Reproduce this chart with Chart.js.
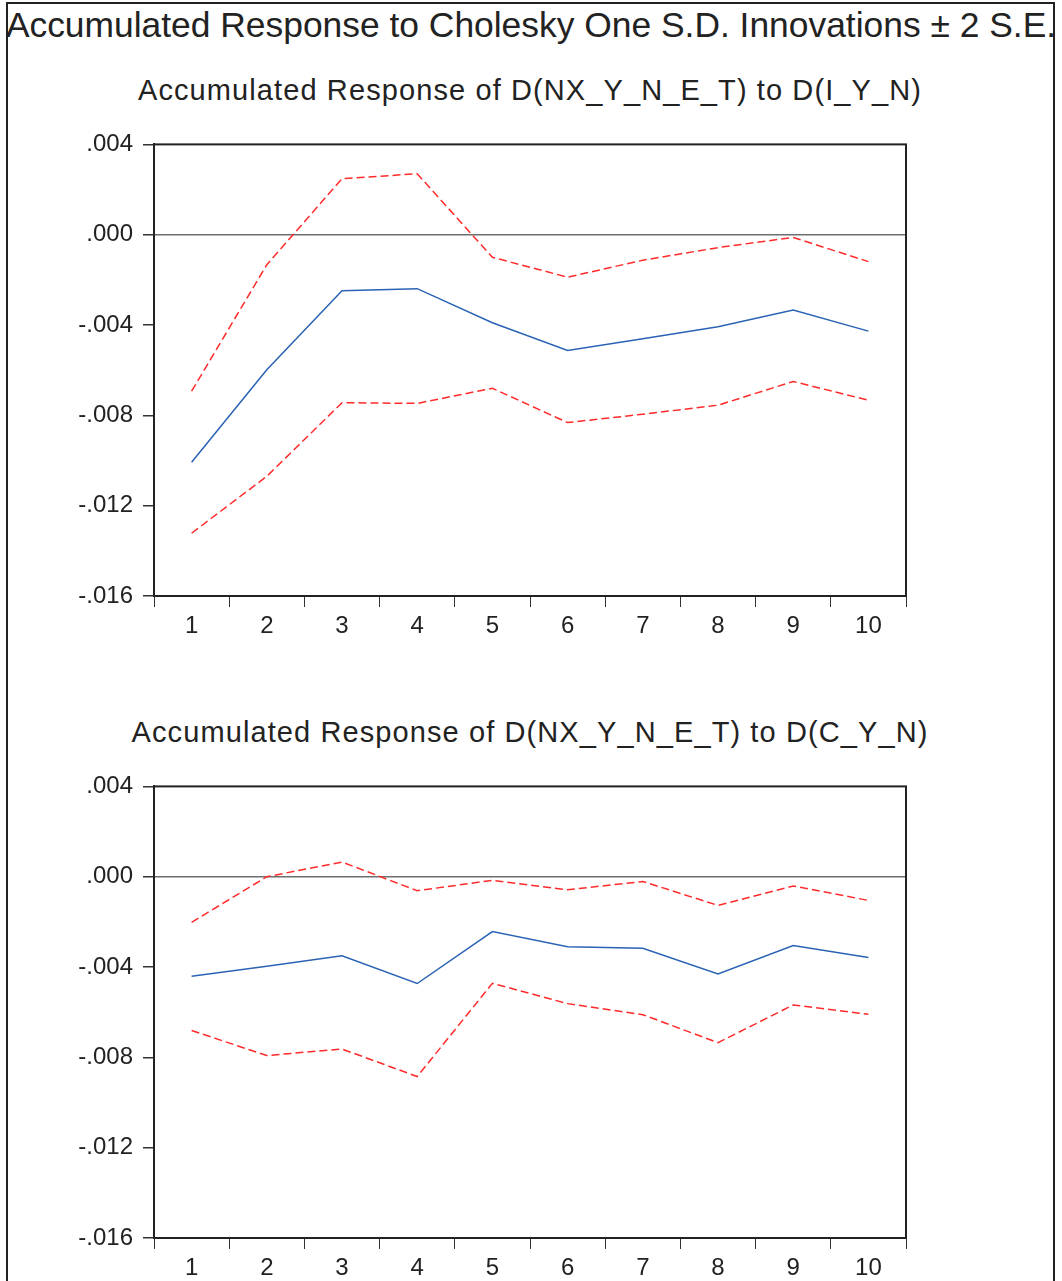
<!DOCTYPE html>
<html>
<head>
<meta charset="utf-8">
<script src="https://cdn.jsdelivr.net/npm/chart.js@4.4.1/dist/chart.umd.min.js"></script>
<style>
  html, body { margin: 0; padding: 0; background: #fff; overflow: hidden; }
  body { width: 1062px; height: 1281px; position: relative; font-family: "Liberation Sans", Arial, sans-serif; color: #222; }
  .frame { position: absolute; left: 6px; top: 2px; width: 1045px; height: 1400px; border: 2px solid #222; }
  .title { position: absolute; left: 0; width: 1062px; text-align: center; white-space: nowrap; }
  .main { top: 8px; font-size: 35.4px; line-height: 35px; }
  .sub { font-size: 29px; line-height: 28px; letter-spacing: 1.1px; }
  canvas { position: absolute; left: 0; }
</style>
</head>
<body>
<div class="frame"></div>
<div class="title main">Accumulated Response to Cholesky One S.D. Innovations ± 2 S.E.</div>
<div class="title sub" id="sub1" style="top:76px;left:-1px">Accumulated Response of D(NX_Y_N_E_T) to D(I_Y_N)</div>
<div class="title sub" id="sub2" style="top:718px;left:-1px">Accumulated Response of D(NX_Y_N_E_T) to D(C_Y_N)</div>
<canvas id="c1" width="1062" height="540" style="top:120px"></canvas>
<canvas id="c2" width="1062" height="519" style="top:762px"></canvas>
<script>
const periods = ["1", "2", "3", "4", "5", "6", "7", "8", "9", "10"];
const yTicks = [0.004, 0.0, -0.004, -0.008, -0.012, -0.016];
const yTickLabels = [".004", ".000", "-.004", "-.008", "-.012", "-.016"];

// response of D(NX_Y_N_E_T) to D(I_Y_N)
const iyResp = [-0.01008, -0.00598, -0.00248, -0.00239, -0.00390, -0.00513, -0.00461, -0.00408, -0.00333, -0.00427];
const iyUpper = [-0.00693, -0.00133, 0.00248, 0.00270, -0.00100, -0.00188, -0.00113, -0.00057, -0.00012, -0.00119];
const iyLower = [-0.01322, -0.01070, -0.00744, -0.00747, -0.00680, -0.00832, -0.00795, -0.00755, -0.00650, -0.00733];

// response of D(NX_Y_N_E_T) to D(C_Y_N)
const cyResp = [-0.00441, -0.00397, -0.00350, -0.00473, -0.00243, -0.00310, -0.00317, -0.00431, -0.00305, -0.00358];
const cyUpper = [-0.00202, 0.00000, 0.00065, -0.00062, -0.00016, -0.00058, -0.00021, -0.00127, -0.00041, -0.00105];
const cyLower = [-0.00681, -0.00792, -0.00763, -0.00885, -0.00472, -0.00562, -0.00611, -0.00735, -0.00568, -0.00609];

const FONT = "'Liberation Sans', Arial, sans-serif";

// box round the plot area
const framePlugin = {
  id: "frame",
  afterDraw(chart) {
    const a = chart.chartArea;
    const ctx = chart.ctx;
    ctx.save();
    ctx.strokeStyle = "#222";
    ctx.lineWidth = 2;
    ctx.strokeRect(a.left, a.top, a.right - a.left, a.bottom - a.top);
    ctx.restore();
  },
};

function makeChart(id, resp, upper, lower, xHeight) {
  const band = (data) => ({
    data: data,
    borderColor: "#ff2b2b",
    borderWidth: 1.5,
    borderDash: [8, 4],
    pointRadius: 0,
    fill: false,
    tension: 0,
  });
  return new Chart(document.getElementById(id), {
    type: "line",
    plugins: [framePlugin],
    data: {
      labels: periods,
      datasets: [
        { data: resp, borderColor: "#2a63b4", borderWidth: 1.5, pointRadius: 0, fill: false, tension: 0 },
        band(upper),
        band(lower),
      ],
    },
    options: {
      responsive: false,
      animation: false,
      layout: { padding: { top: 24, right: 156, left: 0, bottom: 0 } },
      plugins: { legend: { display: false }, tooltip: { enabled: false }, title: { display: false } },
      scales: {
        x: {
          offset: true,
          afterFit(scale) { scale.height = xHeight; },
          grid: { offset: true, drawOnChartArea: false, drawTicks: true, tickLength: 11, tickColor: "#333", lineWidth: 1 },
          border: { display: true, color: "#222", width: 2 },
          ticks: { color: "#222", font: { family: FONT, size: 24 }, padding: 5, maxRotation: 0, autoSkip: false },
        },
        y: {
          min: -0.016,
          max: 0.004,
          afterFit(scale) { scale.width = 154; },
          afterBuildTicks(scale) { scale.ticks = yTicks.map((v) => ({ value: v })); },
          grid: {
            drawTicks: true,
            tickLength: 11,
            tickColor: "#333",
            color: (c) => (c.tick && c.tick.value === 0 ? "#6e6e6e" : "rgba(0,0,0,0)"),
            lineWidth: 1.5,
          },
          border: { display: true, color: "#222", width: 2 },
          ticks: {
            color: "#222",
            font: { family: FONT, size: 24 },
            padding: 10,
            callback: (v, i) => yTickLabels[i],
          },
        },
      },
    },
  });
}

makeChart("c1", iyResp, iyUpper, iyLower, 64);
makeChart("c2", cyResp, cyUpper, cyLower, 43);
</script>
</body>
</html>
